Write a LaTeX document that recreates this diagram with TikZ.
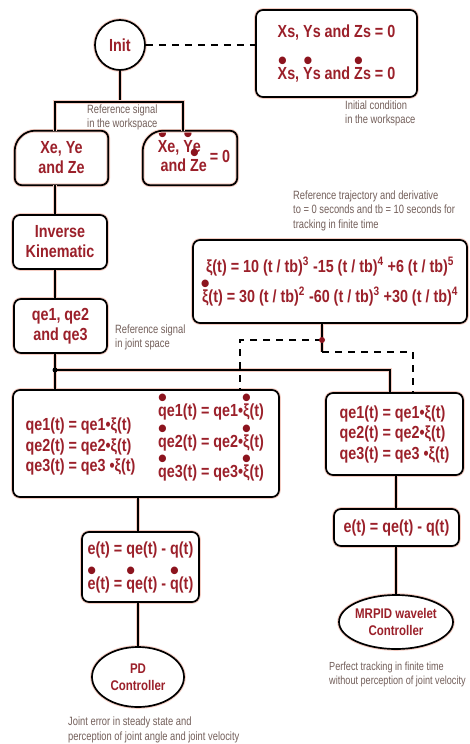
\documentclass[tikz,border=0pt]{standalone}
\usepackage{fontspec}
\usepackage{graphicx}
\setmainfont{Liberation Sans}
\newfontfamily\bx{Liberation Sans}[FakeStretch=0.82]
\newfontfamily\nt{Liberation Sans}[FakeStretch=0.78]
\usetikzlibrary{shapes.geometric}
\definecolor{txt}{RGB}{155,32,42}
\definecolor{dotc}{RGB}{140,20,30}
\definecolor{notec}{RGB}{115,95,90}
\definecolor{halo}{RGB}{245,205,195}
\newcommand\dt[1]{\ooalign{#1\cr\hidewidth\smash{\raisebox{0.56em}{\color{dotc}\scalebox{1.75}[1.5]{\textbullet}}}\hidewidth\cr}}
\begin{document}
\begin{tikzpicture}[x=1pt,y=-1pt,
  conn/.style={draw=black, line width=1.5pt, preaction={draw=halo, line width=3.2pt}},
  dsh/.style={draw=black, line width=1.2pt, dash pattern=on 7pt off 6pt},
  boxline/.style={draw=black, line width=1.7pt, rounded corners=7pt, preaction={draw=halo, line width=3.6pt}},
  bigfont/.style={font=\bx\bfseries\fontsize{17.5}{20}\selectfont},
  boxtext/.style={bigfont, text=txt, align=center, inner sep=0pt},
  box/.style={boxline, fill=white, boxtext},
  ell/.style={ellipse, draw=black, line width=1.7pt, preaction={draw=halo, line width=3.6pt}, fill=white, text=txt, font=\bx\bfseries\fontsize{14}{17}\selectfont, align=center, inner xsep=-3pt, inner ysep=0pt},
  note/.style={text=notec, font=\nt\fontsize{12}{14.5}\selectfont, align=left, inner sep=0pt, anchor=west}
]
\useasboundingbox (0,0) rectangle (470,744);
\fill[white] (0,0) rectangle (470,744);

% coordinates for connectors
\coordinate (ft) at (120,102);
\coordinate (fl) at (55,102);
\coordinate (fr) at (183,102);
\coordinate (j) at (55,370);
\coordinate (jr) at (390,370);
\coordinate (d) at (322,340);
\coordinate (d2) at (322,352);
\coordinate (dl) at (240,340);
\coordinate (dr) at (413,352);

% nodes
\node[circle, draw=black, line width=1.7pt, preaction={draw=halo, line width=3.6pt}, fill=white, boxtext, minimum size=50] (init) at (120,45) {Init};
\node[box, minimum width=161, minimum height=87] (ic) at (336.5,53.5) {Xs, Ys and Zs = 0\\[22pt]\dt{X}s, \dt{Y}s and \dt{Z}s = 0};

\node[boxtext, minimum width=93, minimum height=54] (xe) at (61.5,158) {Xe, Ye\\and Ze};
\node[boxtext, minimum width=94, minimum height=54] (xed) at (190,158) {\raisebox{-2pt}{\hspace*{8pt}\begin{tabular}{@{}l@{}}\dt{X}e, \dt{Y}e\\[-1pt]\,and \dt{Z}e\end{tabular}\,= 0}};

\node[box, minimum width=94, minimum height=54] (ik) at (60,242) {Inverse\\Kinematic};
\node[box, minimum width=93, minimum height=54] (qe) at (60.5,326) {qe1, qe2\\and qe3};

\node[box, minimum width=274, minimum height=83] (xi) at (330,281.5) {ξ(t) = 10 (t / tb)\textsuperscript{3} -15 (t / tb)\textsuperscript{4} +6 (t / tb)\textsuperscript{5}\\[10pt]\dt{ξ}(t) = 30 (t / tb)\textsuperscript{2} -60 (t / tb)\textsuperscript{3} +30 (t / tb)\textsuperscript{4}};

\node[box, minimum width=266, minimum height=107] (big) at (146,443.5) {};
\node[boxtext, align=left, font=\bx\bfseries\fontsize{17.5}{20.5}\selectfont] (bigl) at (80.5,446.5) {qe1(t) = qe1\textbullet ξ(t)\\qe2(t) = qe2\textbullet ξ(t)\\qe3(t) = qe3 \textbullet ξ(t)};
\node[boxtext, align=left] (bigr) at (211,442.5) {\dt{q}e1(t) = qe1\textbullet\dt{ξ}(t)\\[10.5pt]\dt{q}e2(t) = qe2\textbullet\dt{ξ}(t)\\[10.5pt]\dt{q}e3(t) = qe3\textbullet\dt{ξ}(t)};

\node[box, align=left, minimum width=137, minimum height=82, font=\bx\bfseries\fontsize{17.5}{20.5}\selectfont] (rb) at (394.5,434) {qe1(t) = qe1\textbullet ξ(t)\\qe2(t) = qe2\textbullet ξ(t)\\qe3(t) = qe3 \textbullet ξ(t)};
\node[box, minimum width=125, minimum height=37] (rbe) at (396.5,527.5) {e(t) = qe(t) - q(t)};
\node[box, minimum width=117, minimum height=70] (le) at (140.5,567) {e(t) = qe(t) - q(t)\\[15pt]\dt{e}(t) = \dt{q}e(t) - \dt{q}(t)};

\node[ell, minimum width=92, minimum height=60] (pd) at (138,677) {PD\\Controller};
\node[ell, minimum width=114, minimum height=54] (mr) at (396,622) {MRPID wavelet\\Controller};

% notes
\node[note] (n1) at (87,117.5) {Reference signal\\in the workspace};
\node[note] (n2) at (345,113.5) {Initial condition\\in the workspace};
\node[note] (n3) at (293,210.5) {Reference trajectory and derivative\\to = 0 seconds and tb = 10 seconds for\\tracking in finite time};
\node[note] (n4) at (115,337.5) {Reference signal\\in joint space};
\node[note, font=\nt\fontsize{11.7}{14.5}\selectfont] (n5) at (329,674.5) {Perfect tracking in finite time\\without perception of joint velocity};
\node[note] (n6) at (68,730) {Joint error in steady state and\\perception of joint angle and joint velocity};

% chamfered boxes
\draw[boxline] ([xshift=12pt]xe.north west) -- (xe.north east) -- (xe.south east) -- (xe.south west) -- ([yshift=-12pt]xe.north west) -- cycle;
\draw[boxline] ([xshift=12pt]xed.north west) -- (xed.north east) -- (xed.south east) -- (xed.south west) -- ([yshift=-12pt]xed.north west) -- cycle;

% connectors
\draw[dsh] (init.east) -- (ic.west |- init.east);
\draw[conn] (init.south) -- (ft);
\draw[conn] (xe.north -| fl) -- (fl) -- (fr) -- (xed.north -| fr);
\draw[conn] (xe.south -| fl) -- (ik.north -| fl);
\draw[conn] (ik.south -| fl) -- (qe.north -| fl);
\draw[conn] (qe.south -| j) -- (big.north -| j);
\draw[conn] (j) -- (jr) -- (rb.north -| jr);
\fill (j) circle (2.5);
\draw[conn] (xi.south -| d) -- (d2);
\draw[dsh] (d) -- (dl) -- (big.north -| dl);
\draw[dsh] (d2) -- (dr) -- (rb.north -| dr);
\fill[dotc] (d) circle (3);
\draw[conn] (big.south -| pd) -- (le.north -| pd);
\draw[conn] (le.south -| pd) -- (pd.north);
\draw[conn] (rb.south -| mr) -- (rbe.north -| mr);
\draw[conn] (rbe.south -| mr) -- (mr.north);
\end{tikzpicture}
\end{document}
